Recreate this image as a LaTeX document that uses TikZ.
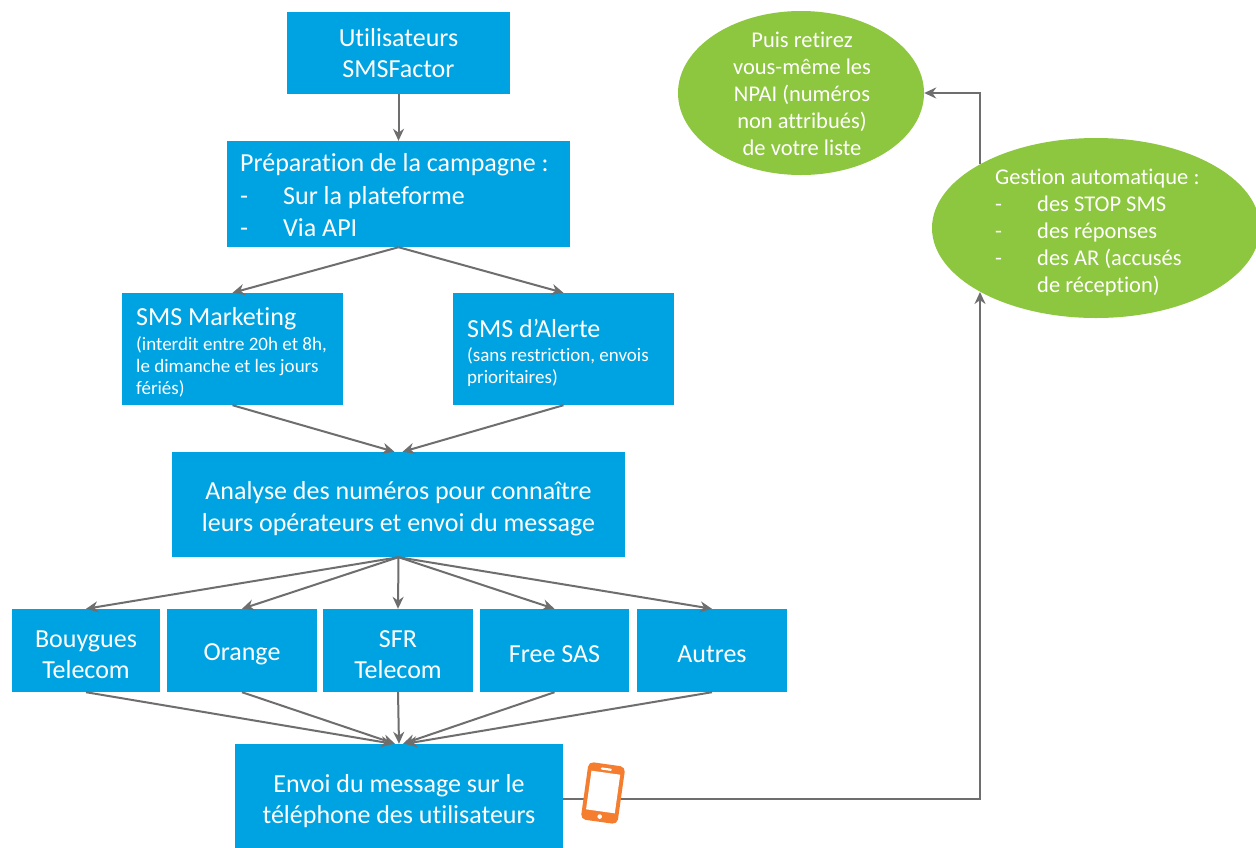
\documentclass[tikz,border=0pt]{standalone}
\usepackage{fontspec}
\setmainfont{Carlito}[Ligatures=NoCommon]
\usetikzlibrary{shapes.geometric,arrows.meta,calc}
\definecolor{boxblue}{RGB}{0,163,226}
\definecolor{ovgreen}{RGB}{141,198,63}
\definecolor{arrgray}{RGB}{110,110,110}
\definecolor{phoneor}{RGB}{244,125,48}
\begin{document}
\begin{tikzpicture}[x=1pt,y=-1pt,
  box/.style={fill=boxblue, draw=none, inner sep=0pt},
  boxtxt/.style={text=white, inner sep=0pt, align=center, font=\fontsize{26}{31}\selectfont},
  oval/.style={ellipse, fill=ovgreen, draw=none, inner sep=0pt},
  bigtxt/.style={text=white, inner sep=0pt, align=left, anchor=west, font=\fontsize{26}{31}\selectfont},
  smalltxt/.style={text=white, inner sep=0pt, align=left, anchor=west, font=\fontsize{19}{22}\selectfont},
  ovtxt/.style={text=white, inner sep=0pt, font=\fontsize{22.5}{27}\selectfont},
  conn/.style={draw=arrgray, line width=2pt, -{Stealth[length=12pt,width=11pt]}},
]
\useasboundingbox (0,0) rectangle (1256,847);
\fill[white] (0,0) rectangle (1256,847);

% boxes
\node[box, minimum width=223pt, minimum height=82pt] (u) at (398.5,53) {};
\node[boxtxt] (utxt) at (398.5,53) {Utilisateurs\\SMSFactor};

\node[box, minimum width=343pt, minimum height=106pt] (prep) at (398.5,194) {};
\node[bigtxt, font=\fontsize{26}{32.5}\selectfont] (preptxt) at (240,195.5) {Préparation de la campagne :\\\makebox[43pt][l]{-}Sur la plateforme\\\makebox[43pt][l]{-}Via API};

\node[box, minimum width=221pt, minimum height=112pt] (mk) at (232.5,349) {};
\node[bigtxt] (mktitle) at (136,318.5) {SMS Marketing};
\node[smalltxt] (mksub) at (136,367) {(interdit entre 20h et 8h,\\le dimanche et les jours\\fériés)};

\node[box, minimum width=221pt, minimum height=112pt] (al) at (563.5,349) {};
\node[bigtxt] (altitle) at (467,328.5) {SMS d’Alerte};
\node[smalltxt] (alsub) at (467,367) {(sans restriction, envois\\prioritaires)};

\node[box, minimum width=453pt, minimum height=105pt] (an) at (398.5,504.5) {};
\node[boxtxt, font=\fontsize{26}{32}\selectfont] (antxt) at (398.5,508.5) {Analyse des numéros pour connaître\\leurs opérateurs et envoi du message};

\node[box, minimum width=148pt, minimum height=83pt] (b1) at (86,650.5) {};
\node[box, minimum width=150pt, minimum height=83pt] (b2) at (242,650.5) {};
\node[box, minimum width=150pt, minimum height=83pt] (b3) at (398,650.5) {};
\node[box, minimum width=149pt, minimum height=83pt] (b4) at (554.5,650.5) {};
\node[box, minimum width=150pt, minimum height=83pt] (b5) at (712,650.5) {};
\node[boxtxt] (b1txt) at (86,654.5) {Bouygues\\Telecom};
\node[boxtxt] (b2txt) at (242,654.5) {Orange};
\node[boxtxt] (b3txt) at (398,654.5) {SFR\\Telecom};
\node[boxtxt] (b4txt) at (554.5,654.5) {Free SAS};
\node[boxtxt] (b5txt) at (712,654.5) {Autres};

\node[box, minimum width=328pt, minimum height=109pt] (en) at (399,798.5) {};
\node[boxtxt] (entxt) at (399,801) {Envoi du message sur le\\téléphone des utilisateurs};

% ellipses
\node[oval, minimum width=246pt, minimum height=164pt] (e1) at (801,93) {};
\node[ovtxt, align=center] (e1txt) at (802,94) {Puis retirez\\vous-même les\\NPAI (numéros\\non attribués)\\de votre liste};
\node[oval, minimum width=328pt, minimum height=180pt] (e2) at (1096,228) {};
\node[ovtxt, align=left, anchor=west] (e2txt) at (995,233) {Gestion automatique :\\\makebox[42pt][l]{-}des STOP SMS\\\makebox[42pt][l]{-}des réponses\\\makebox[42pt][l]{-}des AR (accusés\\\hspace*{42pt}de réception)};

% connectors
\draw[conn] (u) -- (prep);
\draw[conn] (prep.south) -- (mk.north);
\draw[conn] (prep.south) -- (al.north);
\draw[conn] (mk.south) -- ([xshift=-4pt]an.north);
\draw[conn] (al.south) -- ([xshift=4pt]an.north);
\draw[conn] (an.south) -- (b1.north);
\draw[conn] (an.south) -- (b2.north);
\draw[conn] (an.south) -- (b3.north);
\draw[conn] (an.south) -- (b4.north);
\draw[conn] (an.south) -- (b5.north);
\draw[conn] (b1.south) -- ([xshift=-6pt]en.north);
\draw[conn] (b2.south) -- ([xshift=-4pt]en.north);
\draw[conn] (b3.south) -- (en.north);
\draw[conn] (b4.south) -- ([xshift=4pt]en.north);
\draw[conn] (b5.south) -- ([xshift=6pt]en.north);

\coordinate (p1) at (980,798.5);
\coordinate (p2) at (980,292);
\coordinate (p3) at (980,164);
\draw[conn] (en.east) -- (p1) -- (p2);
\draw[conn] (p3) |- (e1.east);

% phone icon
\begin{scope}[shift={(603,793)}, rotate=-8]
  \fill[phoneor, rounded corners=5pt] (-18.5,-29) rectangle (18.5,29);
  \fill[white] (-14.5,-20.5) rectangle (14.5,18.5);
  \fill[white, rounded corners=1pt] (-5.5,-25.2) rectangle (5.5,-23);
  \fill[white] (0,23.8) circle (2.3pt);
\end{scope}
\end{tikzpicture}
\end{document}
